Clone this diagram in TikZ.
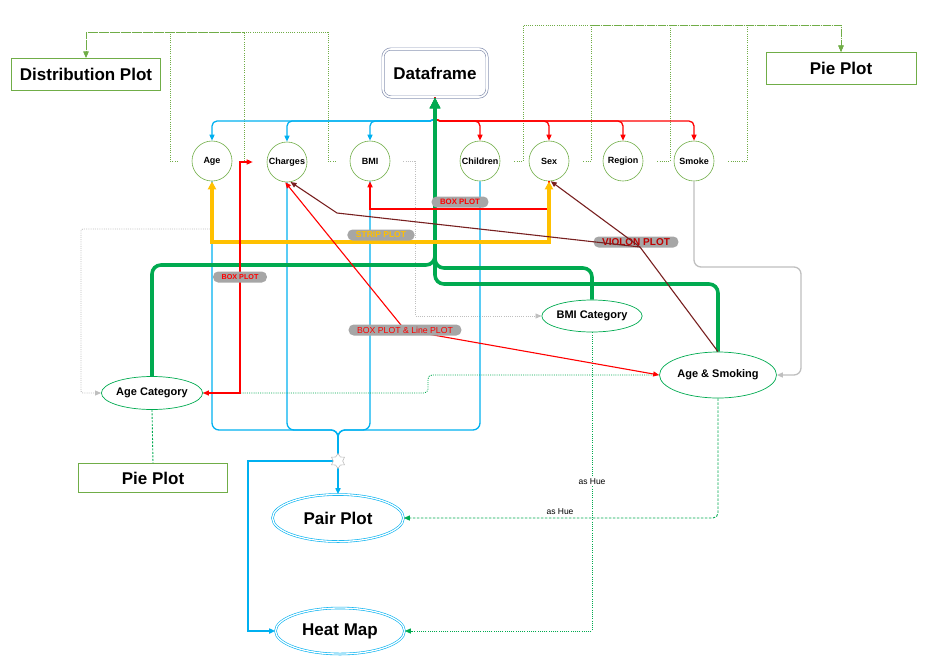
\documentclass[tikz,border=0pt]{standalone}
\usepackage{fontspec}
\setmainfont{Liberation Sans}
\usetikzlibrary{arrows.meta,shapes.geometric,calc}

\definecolor{lgreen}{RGB}{112,173,71}
\definecolor{tgreen}{RGB}{0,170,80}
\definecolor{cblue}{RGB}{0,176,240}
\definecolor{cred}{RGB}{255,0,0}
\definecolor{cyellow}{RGB}{255,192,0}
\definecolor{cbrown}{RGB}{120,32,32}
\definecolor{lgrey}{RGB}{191,191,191}
\definecolor{tagfill}{RGB}{166,166,166}
\definecolor{dfgrey}{RGB}{140,150,180}
\definecolor{violontext}{RGB}{192,0,0}

\newcommand{\fs}[1]{\fontsize{#1}{#1}\selectfont}

\tikzset{
  tip/.style={-{Triangle[length=6pt,width=5pt]}},
  bigtip/.style={-{Triangle[length=11pt,width=10pt]}},
  twotip/.style={{Triangle[length=6pt,width=5pt]}-{Triangle[length=6pt,width=5pt]}},
  attr/.style={circle, draw=lgreen, line width=0.6pt, minimum size=40pt,
    inner sep=0pt, font=\fs{9}\bfseries},
  plotbox/.style={rectangle, draw=lgreen, line width=0.8pt, inner sep=0pt,
    font=\fs{17}\bfseries},
  derived/.style={ellipse, draw=tgreen, line width=0.7pt, inner sep=0pt,
    font=\fs{11}\bfseries},
  finalplot/.style={ellipse, draw=cblue, double, double distance=1.3pt,
    line width=0.6pt, inner sep=0pt, font=\fs{17}\bfseries},
  tag/.style={fill=tagfill, rounded corners=5pt, inner xsep=8.5pt,
    inner ysep=0pt, minimum height=11pt},
  distline/.style={lgreen, line width=0.9pt, dash pattern=on 1pt off 1.2pt},
  blueline/.style={cblue, line width=1.3pt},
  bluethick/.style={cblue, line width=2.4pt},
  redline/.style={cred, line width=1.3pt},
  gthick/.style={tgreen, line width=3.6pt},
  hue/.style={font=\fs{8.5}, inner sep=1pt}
}

\begin{document}
\begin{tikzpicture}[x=1pt,y=-1pt]
\useasboundingbox (0,0) rectangle (926,665);

% ---------- nodes ----------
\node[draw=dfgrey, double, double distance=1.6pt, line width=0.7pt,
      rounded corners=8pt, minimum width=104pt, minimum height=48pt,
      font=\fs{17}\bfseries] (df) at (435,73) {Dataframe};

\node[plotbox, minimum width=149pt, minimum height=32pt] (dist) at (86,74) {Distribution Plot};
\node[plotbox, minimum width=150pt, minimum height=32pt] (pietop) at (841,68) {Pie Plot};
\node[plotbox, minimum width=149pt, minimum height=29pt] (piebot) at (153,478) {Pie Plot};

\node[attr] (age) at (212,161) {Age};
\node[attr] (charges) at (287,162) {Charges};
\node[attr] (bmi) at (370,161) {BMI};
\node[attr] (children) at (480,161) {Children};
\node[attr] (sex) at (549,161) {Sex};
\node[attr] (region) at (623,161) {Region};
\node[attr] (smoke) at (694,161) {Smoke};

\node[derived, minimum width=90pt, minimum height=32pt] (bmicat) at (592,316) {BMI Category};
\node[derived, minimum width=90pt, minimum height=33pt] (agecat) at (152,393) {Age Category};
\node[derived, minimum width=117pt, minimum height=46pt] (agesmoke) at (718,375) {Age \& Smoking};

\node[finalplot, minimum width=131pt, minimum height=47pt] (pair) at (338,518) {Pair Plot};
\node[finalplot, minimum width=129pt, minimum height=46pt] (heat) at (340,631) {Heat Map};

% ---------- distribution plot links ----------
\draw[distline, tip, shorten <=14pt] (age.west) -- (170,161) -- (170,32) -- (86,32) -- (dist.north);
\draw[distline, tip, shorten <=19pt] (charges.west) -- (244,162) -- (244,32) -- (86,32) -- (dist.north);
\draw[distline, tip, shorten <=14pt] (bmi.west) -- (328,161) -- (328,32) -- (86,32) -- (dist.north);

% ---------- pie plot links ----------
\draw[distline, tip, shorten <=14pt] (children.east) -- (523,161) -- (523,25) -- (841,25) -- (pietop.north);
\draw[distline, tip, shorten <=14pt] (sex.east) -- (591,161) -- (591,25) -- (841,25) -- (pietop.north);
\draw[distline, tip, shorten <=14pt] (region.east) -- (670,161) -- (670,25) -- (841,25) -- (pietop.north);
\draw[distline, tip, shorten <=14pt] (smoke.east) -- (747,161) -- (747,25) -- (841,25) -- (pietop.north);

% ---------- grey helper links ----------
\draw[lgrey, line width=0.9pt, dash pattern=on 1pt off 1.2pt, tip, rounded corners=2pt]
  (age.south) -- (212,229) -- (81,229) -- (81,393) -- (agecat.west);
\draw[lgrey, line width=0.9pt, dash pattern=on 1pt off 1.2pt, tip, shorten <=13pt]
  (bmi.east) -- (415,161) -- (415,316) -- (bmicat.west);
\draw[lgrey, line width=1.3pt, tip, rounded corners=7pt]
  (smoke.south) -- (694,267) -- (801,267) -- (801,375) -- (agesmoke.east);

% ---------- dataframe to attributes ----------
\foreach \n/\x in {age/212,charges/287,bmi/370}
  \draw[blueline, tip, rounded corners=5pt] (df.south) -- (435,121) -- (\x,121) -- (\n.north);
\foreach \n/\x in {children/480,sex/549,region/623,smoke/694}
  \draw[redline, tip, rounded corners=5pt] (df.south) -- (435,121) -- (\x,121) -- (\n.north);

% ---------- attributes to pair plot / heat map ----------
\foreach \n/\x in {age/212,charges/287,bmi/370,children/480}
  \draw[blueline, rounded corners=7pt] (\n.south) -- (\x,430) -- (338,430) -- (338,446);
\draw[bluethick, tip] (338,436) -- (pair.north);
\draw[bluethick, tip] (338,461) -- (248,461) -- (248,631) -- (heat.west);
\node[star, star points=6, star point ratio=1.6, draw=lgrey, fill=white,
      line width=0.6pt, minimum size=15pt, inner sep=0pt] (junction) at (338,461) {};

% ---------- derived columns back to dataframe ----------
\draw[gthick, bigtip, rounded corners=9pt] (agecat.north) -- (152,265) -- (435,265) -- (df.south);
\draw[gthick, bigtip, rounded corners=9pt] (bmicat.north) -- (592,268) -- (435,268) -- (df.south);
\draw[gthick, bigtip, rounded corners=9pt] (agesmoke.north) -- (718,284) -- (435,284) -- (df.south);

% ---------- green hue links ----------
\draw[tgreen, line width=0.9pt, dash pattern=on 1pt off 1.2pt, rounded corners=4pt]
  (agecat.east) -- (428,393) -- (428,375) -- (agesmoke.west);
\draw[tgreen, line width=0.9pt, dash pattern=on 2pt off 1.5pt]
  (agecat.south) -- (piebot.north);
\draw[tgreen, line width=0.9pt, dash pattern=on 1pt off 1.2pt, tip]
  (bmicat.south) -- (592,631) -- (heat.east);
\draw[tgreen, line width=0.9pt, dash pattern=on 2.5pt off 1.5pt, tip, rounded corners=5pt]
  (agesmoke.south) -- (718,518) -- (pair.east);
\node[hue, fill=white] (hue1) at (592,482) {as Hue};
\node[hue] (hue2) at (560,512) {as Hue};

% ---------- plot relations ----------
% box plot: sex vs bmi
\draw[cred, line width=2.6pt, tip] (sex.south) -- (549,209) -- (370,209) -- (bmi.south);
\node[tag, font=\fs{7.8}\bfseries, text=cred] (boxa) at (460,202) {BOX PLOT};

% strip plot: age vs sex
\draw[cyellow, line width=3.4pt, {Triangle[length=8pt,width=8pt]}-{Triangle[length=8pt,width=8pt]}]
  (age.south) -- (212,242) -- (549,242) -- (sex.south);
\node[tag, font=\fs{8.5}\bfseries, text=cyellow] (strip) at (381,235) {STRIP PLOT};

% box plot: age category vs charges
\draw[cred, line width=1.3pt, twotip, shorten <=14pt]
  (charges.west) -- (240,162) -- (240,393) -- (agecat.east);
\node[tag, font=\fs{7.2}\bfseries, text=cred] (boxb) at (240,277) {BOX PLOT};

% box plot & line plot: age & smoking vs charges
\draw[cred, line width=1.1pt, twotip] (charges.-95) -- (405,330) -- (agesmoke.west);
\node[tag, font=\fs{8.7}, text=cred] (boxline) at (405,330) {BOX PLOT \& Line PLOT};

% violin plot: age & smoking vs sex and charges
\node[tag, font=\fs{10}\bfseries, text=violontext] (violon) at (636,242) {VIOLON PLOT};
\coordinate (vj) at (640,247);
\draw[cbrown, line width=1.1pt] (agesmoke.north) -- (vj);
\draw[cbrown, line width=1.1pt, tip] (vj) -- (sex.-85);
\draw[cbrown, line width=1.1pt, tip] (vj) -- (337,213) -- (charges.-80);

\end{tikzpicture}
\end{document}
